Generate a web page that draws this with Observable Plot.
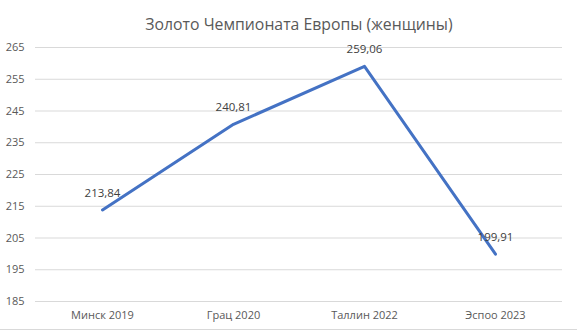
<!DOCTYPE html>
<html>
<head>
<meta charset="utf-8">
<script src="https://cdn.jsdelivr.net/npm/d3@7"></script>
<script src="https://cdn.jsdelivr.net/npm/@observablehq/plot@0.6"></script>
<style>
  html, body { margin: 0; padding: 0; background: #fff; }
  #wrap { position: relative; width: 577px; height: 333px; overflow: hidden; }
  #border { position: absolute; left: 0; top: 329px; width: 577px; height: 1px; background: #d9d9d9; }
</style>
</head>
<body>
<div id="wrap"><div id="border"></div></div>
<script>
const title = "Золото Чемпионата Европы (женщины)";
const categories = ["Минск 2019", "Грац 2020", "Таллин 2022", "Эспоо 2023"];
const values = [213.84, 240.81, 259.06, 199.91];
const yTicks = [185, 195, 205, 215, 225, 235, 245, 255, 265];

const data = categories.map((c, i) => ({cat: c, val: values[i], label: values[i].toFixed(2).replace(".", ",")}));
const font = "'Open Sans', 'Noto Sans', sans-serif";

const chart = Plot.plot({
  width: 577,
  height: 333,
  marginTop: 47,
  marginBottom: 32,
  marginLeft: 35,
  marginRight: 15,
  style: {fontFamily: font, fontSize: "11px", color: "#595959", background: "#fff"},
  x: {type: "point", domain: categories, padding: 0.5, label: null},
  y: {domain: [185, 265], label: null},
  marks: [
    Plot.gridY(yTicks, {stroke: "#d9d9d9", strokeOpacity: 1, strokeWidth: 1}),
    Plot.axisY(yTicks, {tickSize: 0, tickPadding: 11, fill: "#595959", fontSize: 11, label: null}),
    Plot.axisX(categories, {tickSize: 0, tickPadding: 10, fill: "#595959", fontSize: 11, label: null}),
    Plot.line(data, {x: "cat", y: "val", stroke: "#4472C4", strokeWidth: 3, strokeLinecap: "round", strokeLinejoin: "round"}),
    Plot.text(data, {x: "cat", y: "val", text: "label", dy: -17, fill: "#404040", fontSize: 11.5}),
    Plot.text([title], {frameAnchor: "top", dy: -29, fontSize: 15.8, fill: "#595959", text: d => d})
  ]
});
document.getElementById("wrap").prepend(chart);
</script>
</body>
</html>
